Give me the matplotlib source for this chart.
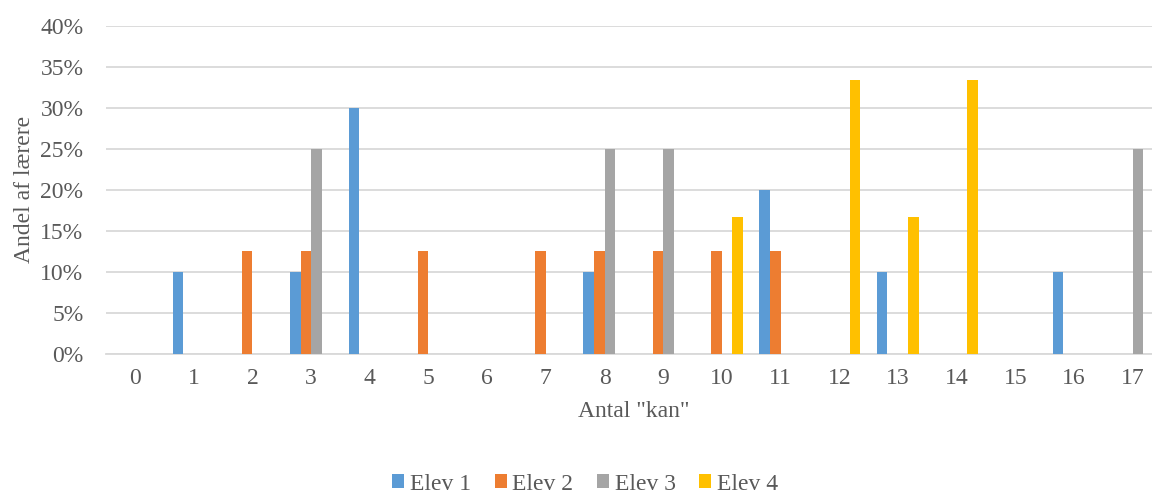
import matplotlib.pyplot as plt
import numpy as np

# data (share of teachers, %)
categories = list(range(18))
series_names = ["Elev 1", "Elev 2", "Elev 3", "Elev 4"]
elev_1 = [0, 10, 0, 10, 30, 0, 0, 0, 10, 0, 0, 20, 0, 10, 0, 0, 10, 0]
elev_2 = [0, 0, 12.5, 12.5, 0, 12.5, 0, 12.5, 12.5, 12.5, 12.5, 12.5, 0, 0, 0, 0, 0, 0]
elev_3 = [0, 0, 0, 25, 0, 0, 0, 0, 25, 25, 0, 0, 0, 0, 0, 0, 0, 25]
elev_4 = [0, 0, 0, 0, 0, 0, 0, 0, 0, 0, 16.67, 0, 33.33, 16.67, 33.33, 0, 0, 0]
y_ticks = [0, 5, 10, 15, 20, 25, 30, 35, 40]

colors = ["#5B9BD5", "#ED7D31", "#A5A5A5", "#FFC000"]
text_col = "#595959"

plt.rcParams['font.family'] = ['Liberation Serif', 'DejaVu Serif']

fig = plt.figure(figsize=(11.52, 4.95), dpi=100)
# plot area runs a bit past the right edge, as in the original crop
ax = fig.add_axes([105.7 / 1152, (495 - 354) / 495,
                   (1162 - 105.7) / 1152, (354 - 25.7) / 495])

x = np.arange(len(categories))
w = 0.18
all_series = [elev_1, elev_2, elev_3, elev_4]
for i, (vals, name) in enumerate(zip(all_series, series_names)):
    ax.bar(x + (i - 1.5) * w, vals, width=w, color=colors[i], label=name,
           zorder=3)

ax.set_xlim(-0.5, len(categories) - 0.5)
ax.set_ylim(0, 40)
ax.set_yticks(y_ticks)
ax.set_yticklabels([f"{t}%" for t in y_ticks])
ax.set_xticks(x)
ax.set_xticklabels([str(c) for c in categories])
ax.tick_params(axis='both', length=0, labelsize=17, labelcolor=text_col)
ax.tick_params(axis='x', pad=10)
ax.tick_params(axis='y', pad=16)

ax.grid(axis='y', color='#D9D9D9', linewidth=1.3, zorder=0)
for s in ['top', 'right', 'left']:
    ax.spines[s].set_visible(False)
ax.spines['bottom'].set_color('#D9D9D9')
ax.spines['bottom'].set_linewidth(1.3)

ax.set_xlabel('Antal "kan"', fontsize=17, color=text_col, labelpad=9)
ax.set_ylabel('Andel af lærere', fontsize=17, color=text_col, labelpad=4)

handles, labels = ax.get_legend_handles_labels()
fig.legend(handles, labels, loc='center', bbox_to_anchor=(0.508, 0.022),
           ncol=4, frameon=False, fontsize=17, labelcolor=text_col,
           handlelength=0.5, handleheight=0.5, handletextpad=0.25,
           columnspacing=1.0)

fig.savefig('out.png', dpi=100)
